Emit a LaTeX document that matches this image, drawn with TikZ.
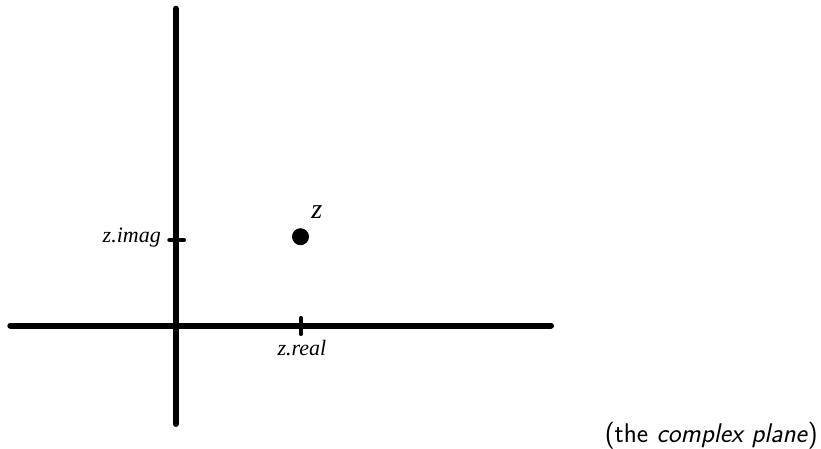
\documentclass[tikz,border=0pt]{standalone}
\usepackage{fontspec}
\newfontfamily\timesf{Liberation Serif}
\begin{document}
\begin{tikzpicture}[x=1pt,y=1pt,
  axis/.style={line width=6pt, line cap=round},
  tick/.style={line width=4.5pt, line cap=round},
  lbl/.style={font=\timesf\itshape\fontsize{22}{24}\selectfont, inner sep=0pt},
]
\useasboundingbox (0,0) rectangle (821,448);
\coordinate (ytop) at (175.7,439.3);
\coordinate (ybot) at (175.7,24);
\coordinate (xl) at (10.3,122.5);
\coordinate (xr) at (551,122.5);
\draw[axis] (ybot) -- (ytop);
\draw[axis] (xl) -- (xr);
\coordinate (ti1) at (169.5,208);
\coordinate (ti2) at (183.8,208);
\draw[tick] (ti1) -- (ti2);
\coordinate (tr1) at (301,129.8);
\coordinate (tr2) at (301,114.2);
\draw[tick] (tr1) -- (tr2);
\node[circle, fill=black, minimum size=17pt, inner sep=0pt] (z) at (300.5,211.3) {};
\node[font=\timesf\itshape\fontsize{28}{30}\selectfont, inner sep=0pt, anchor=base] (zl) at (316.7,230) {\textit{z}};
\node[lbl, anchor=base east] (imag) at (161,205.3) {z.imag};
\node[lbl, anchor=base] (real) at (302,92.3) {z.real};
\node[font=\sffamily\fontsize{27}{30}\selectfont, inner sep=0pt, anchor=base east] (cap) at (818,6) {(the \textit{complex plane})};
\end{tikzpicture}
\end{document}
